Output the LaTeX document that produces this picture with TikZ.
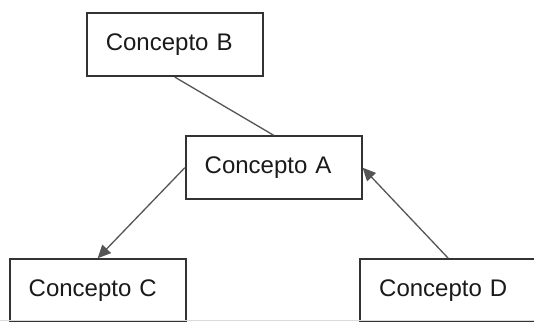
\documentclass[tikz,border=0pt]{standalone}
\usepackage{fontspec}
\setmainfont{Liberation Sans}
\usetikzlibrary{arrows.meta}
\definecolor{boxline}{HTML}{333333}
\definecolor{linkline}{HTML}{555555}
\definecolor{labeltext}{HTML}{1A1A1A}
\definecolor{edgerule}{HTML}{DADADA}
\begin{document}
\begin{tikzpicture}[x=1pt,y=-1pt,
  concept/.style={draw=boxline, line width=1.8pt, fill=white, rectangle,
    minimum width=176pt, minimum height=63pt, inner xsep=19pt,
    text width=138pt, align=left, text height=17.5pt, text depth=5.2pt,
    font=\fontsize{24}{28}\selectfont, text=labeltext},
  link/.style={draw=linkline, line width=1.3pt},
  arrowlink/.style={link, -{Triangle[length=13pt,width=12pt]}}]
  \fill[white] (0,0) rectangle (534,321);
  \clip (0,0) rectangle (534,321);
  % concept boxes
  \node[concept] (B) at (174.8,44.7) {Concepto B};
  \node[concept] (A) at (273.7,167.7) {Concepto A};
  \node[concept] (C) at (97.7,290.6) {Concepto C};
  \node[concept] (D) at (448.2,290.6) {Concepto D};
  % relations
  \draw[link] (B.south) -- (A.north);
  \draw[arrowlink] (A.west) -- (C.north);
  \draw[arrowlink] (D.north) -- (A.east);
  % faint rule along the lower edge
  \draw[edgerule, line width=1pt] (0,320.5) -- (534,320.5);
\end{tikzpicture}
\end{document}
